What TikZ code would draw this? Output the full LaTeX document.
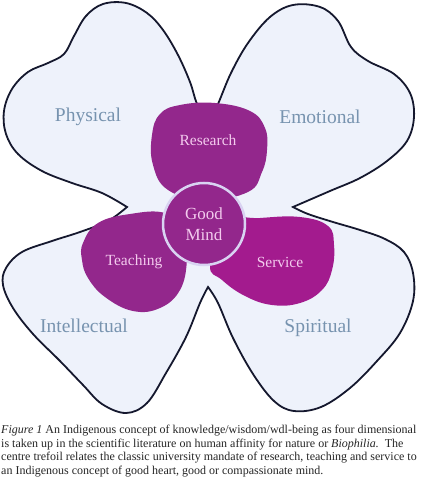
\documentclass[tikz,border=0pt]{standalone}
\usepackage{fontspec}
\setmainfont{Liberation Serif}
\definecolor{petalfill}{HTML}{EEF2FB}
\definecolor{outline}{HTML}{15182E}
\definecolor{dimtext}{HTML}{7793AF}
\definecolor{plum}{HTML}{93278C}
\definecolor{magenta2}{HTML}{A31B8E}
\definecolor{pinktext}{HTML}{F3CBEE}
\definecolor{ring}{HTML}{D9D3F2}
\tikzset{
  dimlabel/.style={text=dimtext, font=\fontsize{19.5bp}{21bp}\selectfont},
  innerlabel/.style={text=pinktext, font=\fontsize{15.5bp}{17bp}\selectfont},
  captionline/.style={anchor=base west, inner sep=0pt, font=\fontsize{12bp}{14bp}\selectfont, text=black!85},
}
\begin{document}
\begin{tikzpicture}[x=1bp,y=-1bp]
\useasboundingbox (0,0) rectangle (422,485);
\fill[white] (0,0) rectangle (422,485);
% four-leaf outline
\filldraw[fill=petalfill, draw=outline, line width=1.8bp, line join=miter]
  plot[smooth, tension=0.6] coordinates {(208,125) (197,104) (190,82) (178,55) (163,30) (147,13) (126,3) (103,4) (86,16) (74,36) (64,54) (48,63) (28,72) (12,89) (4,111) (6,134) (18,154) (42,171) (72,183) (102,193) (127,207)}
  -- plot[smooth, tension=0.6] coordinates {(127,207) (108,221) (80,232) (52,241) (22,252) (6,268) (3,285) (13,308) (33,334) (60,361) (83,385) (102,404) (126,413) (147,403) (166,373) (186,337) (200,303) (208,287)}
  -- plot[smooth, tension=0.6] coordinates {(208,287) (218,303) (233,338) (253,374) (274,401) (294,411) (321,407) (350,388) (377,361) (400,333) (413,301) (413,273) (404,252) (385,239) (360,230) (333,222) (308,214) (293,207)}
  -- plot[smooth, tension=0.6] coordinates {(293,207) (330,191) (360,178) (387,161) (407,141) (414,117) (410,93) (394,74) (368,61) (351,47) (338,21) (320,7) (293,5) (270,17) (248,43) (231,73) (218,104) (208,125)}
  -- cycle;
% trefoil
\fill[plum] plot[smooth cycle, tension=0.7] coordinates {(152,135) (160,114) (180,105) (215,103) (250,111) (265,128) (267,150) (262,172) (248,192) (205,200) (168,190) (153,165)};
\fill[plum] plot[smooth cycle, tension=0.7] coordinates {(83,243) (98,223) (130,214) (165,213) (185,230) (187,260) (180,290) (160,308) (133,311) (105,297) (88,278) (82,260)};
\fill[magenta2] plot[smooth cycle, tension=0.7] coordinates {(225,222) (260,218) (300,217) (328,226) (334,245) (332,270) (322,290) (300,303) (272,305) (245,296) (222,280) (210,265)};
\node[circle, minimum size=82bp, inner sep=0pt, fill=plum, draw=ring, line width=2.5bp] (gm) at (204,224) {};
% labels
\node[dimlabel] (phys) at (88,117) {Physical};
\node[dimlabel] (emo) at (320,117) {Emotional};
\node[dimlabel] (intel) at (84,326) {Intellectual};
\node[dimlabel] (spir) at (318,328) {Spiritual};
\node[innerlabel] (res) at (208,140) {Research};
\node[innerlabel] (teach) at (134,262) {Teaching};
\node[innerlabel] (serv) at (280,262) {Service};
\node[innerlabel, font=\fontsize{17bp}{21bp}\selectfont, align=center] (good) at (gm) {Good\\Mind};
% caption
\node[captionline] (c1) at (1,433.5) {\textit{Figure 1} An Indigenous concept of knowledge/wisdom/wdl-being as four dimensional};
\node[captionline] (c2) at (1,447) {is taken up in the scientific literature on human affinity for nature or \textit{Biophilia.}\ \ The};
\node[captionline] (c3) at (1,460.5) {centre trefoil relates the classic university mandate of research, teaching and service to};
\node[captionline] (c4) at (1,474) {an Indigenous concept of good heart, good or compassionate mind.};
\end{tikzpicture}
\end{document}
